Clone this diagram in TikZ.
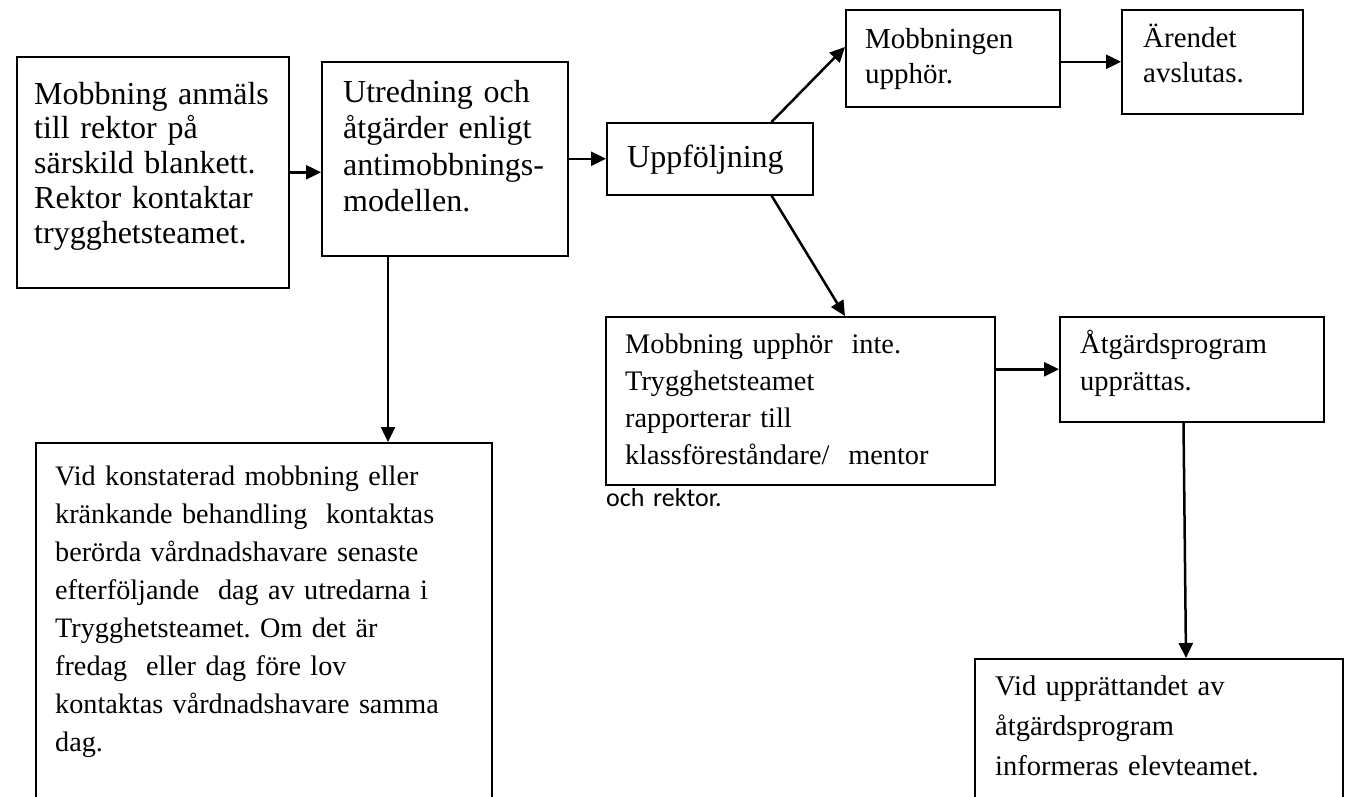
\documentclass[tikz,border=0pt]{standalone}
\usepackage{fontspec}
\setmainfont{Liberation Serif}
\newfontfamily\calibrifont{Carlito}
\usetikzlibrary{arrows.meta,calc}
\frenchspacing
\newcommand{\fbigA}{\fontsize{32}{34.8}\selectfont}
\newcommand{\fbigB}{\fontsize{32}{36.5}\selectfont}
\newcommand{\fmid}{\fontsize{29}{35.5}\selectfont}
\newcommand{\fF}{\fontsize{28.3}{37}\selectfont}
\newcommand{\fG}{\fontsize{28.5}{37}\selectfont}
\newcommand{\fH}{\fontsize{28.2}{38}\selectfont}
\newcommand{\fI}{\fontsize{28.5}{40}\selectfont}
\begin{document}
\begin{tikzpicture}[x=1pt,y=-1pt,
  box/.style={draw=black,line width=1.5pt,inner sep=0pt,anchor=north west},
  txt/.style={inner sep=0pt,anchor=base west,align=left,text width=#1},
  arr/.style={line width=2.5pt,-{Triangle[length=15pt,width=14pt]}}
]
\useasboundingbox (0,0) rectangle (1349,796);
\clip (0,0) rectangle (1349,796);
\fill[white] (0,0) rectangle (1349,796);

% boxes
\node[box,minimum width=272pt,minimum height=231pt] (A) at (16,56) {};
\node[box,minimum width=246pt,minimum height=194pt] (B) at (321,61) {};
\node[box,minimum width=206pt,minimum height=72pt]  (C) at (606,122) {};
\node[box,minimum width=214pt,minimum height=97pt]  (D) at (845,9) {};
\node[box,minimum width=181pt,minimum height=104pt] (E) at (1121,9) {};
\node[box,minimum width=389pt,minimum height=168pt] (F) at (605,316) {};
\node[box,minimum width=264pt,minimum height=105pt] (G) at (1059,316) {};
\node[box,minimum width=456pt,minimum height=380pt] (H) at (35,442) {};
\node[box,minimum width=368pt,minimum height=160pt] (I) at (974,658) {};

% texts
\node[txt=260pt,font=\fbigA] (tA) at (34,104) {Mobbning anmäls\\till rektor på\\särskild blankett.\\Rektor kontaktar\\trygghetsteamet.};
\node[txt=230pt,font=\fbigB] (tB) at (343,102) {Utredning och\\åtgärder enligt\\antimobbnings-\\modellen.};
\node[txt=190pt,font=\fbigA] (tC) at (627,167) {Uppföljning};
\node[txt=200pt,font=\fmid] (tD) at (865,48) {Mobbningen\\upphör.};
\node[txt=170pt,font=\fmid] (tE) at (1143,47) {Ärendet\\avslutas.};
\node[txt=375pt,font=\fF] (tF) at (625,353) {Mobbning upphör\ \ inte.\\Trygghetsteamet\\rapporterar till\\klassföreståndare/\ \ mentor};
\node[txt=200pt,font=\calibrifont\fontsize{26}{30}\selectfont] (tF2) at (606,506) {och rektor.};
\node[txt=250pt,font=\fG] (tG) at (1080,353) {Åtgärdsprogram\\upprättas.};
\node[txt=440pt,font=\fH] (tH) at (55,485) {Vid konstaterad mobbning eller\\kränkande behandling\ \ kontaktas\\berörda vårdnadshavare senaste\\efterföljande\ \ dag av utredarna i\\Trygghetsteamet. Om det är\\fredag\ \ eller dag före lov\\kontaktas vårdnadshavare samma\\dag.};
\node[txt=350pt,font=\fI] (tI) at (995,695) {Vid upprättandet av\\åtgärdsprogram\\informeras elevteamet.};

% connectors
\draw[arr] (A.east) -- (B.west |- A.east);
\draw[arr] (B.east) -- (C.west |- B.east);
\draw[arr] ([xshift=-42pt]C.north east) -- ([yshift=-38pt]D.north west);
\draw[arr] (D.east |- E.west) -- (E.west);
\draw[arr] ([xshift=-42pt]C.south east) -- ([xshift=240pt]F.north west);
\draw[arr] (F.east |- G.west) -- (G.west);
\draw[arr] ([xshift=-141pt]G.south east) -- ([xshift=212pt]I.north west);
\draw[arr] ([xshift=67pt]B.south west) -- ([xshift=67pt]B.south west |- H.north);
\end{tikzpicture}
\end{document}
